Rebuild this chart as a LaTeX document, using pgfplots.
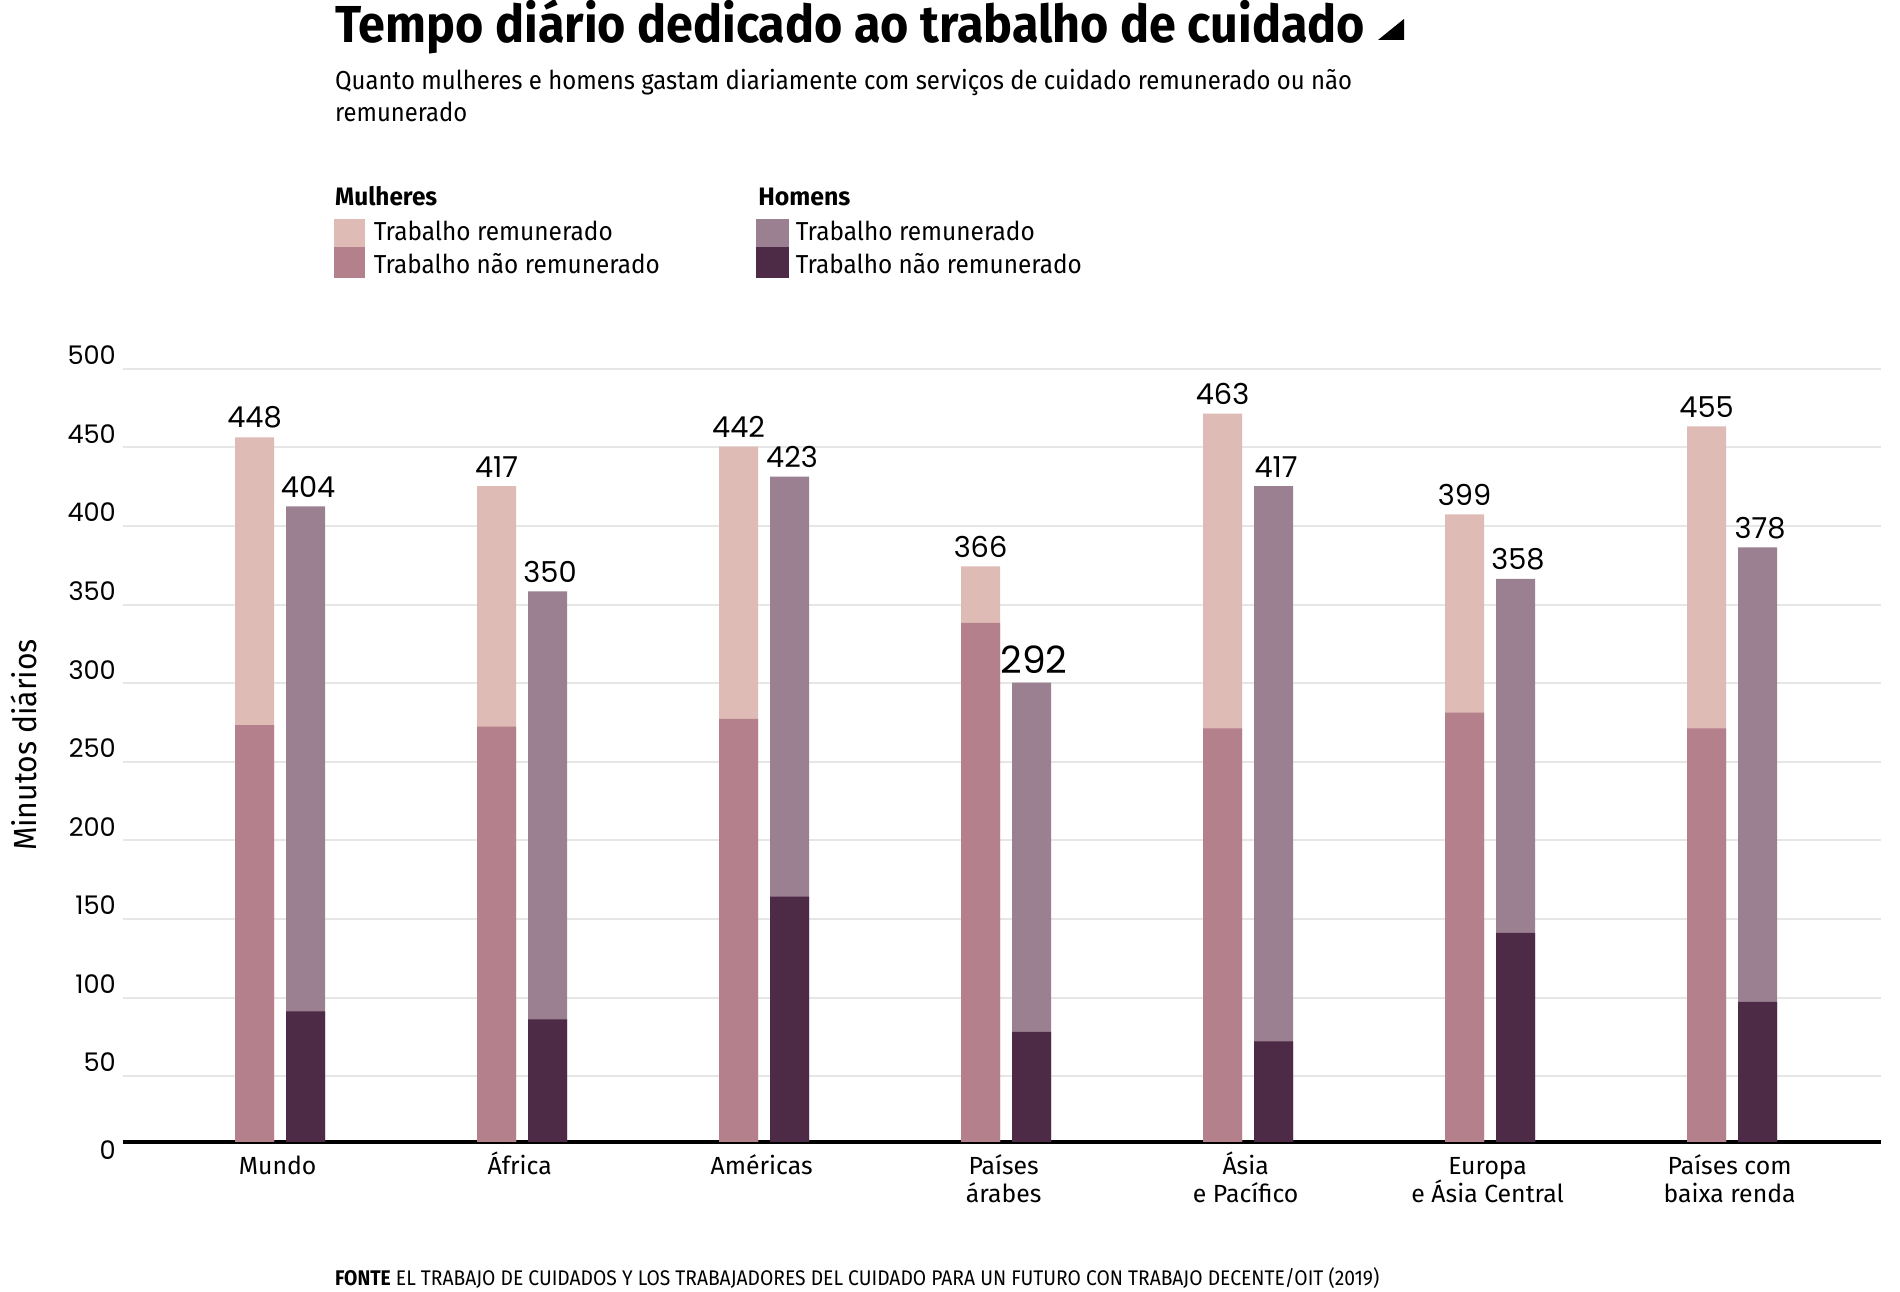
\documentclass[border=0pt]{standalone}
\usepackage{fontspec}
\setmainfont{Fira Sans}
\newfontfamily\numfont{Poppins}
\usepackage{graphicx}
\usepackage{pgfplots}
\usepackage{pgfplotstable}
\pgfplotsset{compat=1.18}
\definecolor{wpaid}{HTML}{DEBBB5}
\definecolor{wunp}{HTML}{B3808B}
\definecolor{mpaid}{HTML}{9A8091}
\definecolor{munp}{HTML}{4D2A46}
\definecolor{gridc}{HTML}{E6E6E6}
\newcommand{\fl}[1]{\smash{#1}\vphantom{Md}}

\pgfplotstableread{
x wtot wunp mtot munp
0 448 265 404 83
1 417 264 350 78
2 442 269 423 156
3 366 330 292 70
4 463 263 417 64
5 399 273 358 133
6 455 263 378 89
}\data

\begin{document}
\begin{tikzpicture}
\path[use as bounding box] (0,0) rectangle (475pt,323pt);
% title
\node[anchor=base west, inner sep=0pt] at (83.6pt,312.4pt) {\resizebox{257.5pt}{\height}{\fontsize{13}{13}\selectfont\bfseries Tempo diário dedicado ao trabalho de cuidado}};
\fill (344.5pt,313pt) -- (351pt,313pt) -- (351pt,318.25pt) -- cycle;
% subtitle
\node[anchor=base west, inner sep=0pt] at (83.6pt,300.6pt) {\resizebox{254.25pt}{\height}{\fontsize{6.5}{6.5}\selectfont Quanto mulheres e homens gastam diariamente com serviços de cuidado remunerado ou não}};
\node[anchor=base west, inner sep=0pt] at (83.6pt,292.7pt) {\resizebox{33pt}{\height}{\fontsize{6.5}{6.5}\selectfont remunerado}};
% legend
\node[anchor=base west, inner sep=0pt] at (83.6pt,271.5pt) {\resizebox{25.5pt}{\height}{\fontsize{6.3}{6.3}\selectfont\bfseries Mulheres}};
\node[anchor=base west, inner sep=0pt] at (189.4pt,271.5pt) {\resizebox{23pt}{\height}{\fontsize{6.3}{6.3}\selectfont\bfseries Homens}};
\fill[wpaid] (83.6pt,261.25pt) rectangle (91.25pt,268.25pt);
\fill[wunp] (83.6pt,253.6pt) rectangle (91.25pt,261.25pt);
\fill[mpaid] (189pt,261.25pt) rectangle (197.25pt,268.25pt);
\fill[munp] (189pt,253.6pt) rectangle (197.25pt,261.25pt);
\node[anchor=base west, inner sep=0pt] at (93.25pt,262.75pt) {\resizebox{59.75pt}{\height}{\fontsize{6.5}{6.5}\selectfont Trabalho remunerado}};
\node[anchor=base west, inner sep=0pt] at (93.25pt,254.5pt) {\resizebox{71.5pt}{\height}{\fontsize{6.5}{6.5}\selectfont Trabalho não remunerado}};
\node[anchor=base west, inner sep=0pt] at (198.75pt,262.75pt) {\resizebox{59.75pt}{\height}{\fontsize{6.5}{6.5}\selectfont Trabalho remunerado}};
\node[anchor=base west, inner sep=0pt] at (198.75pt,254.5pt) {\resizebox{71.5pt}{\height}{\fontsize{6.5}{6.5}\selectfont Trabalho não remunerado}};
% y label
\node[rotate=90, inner sep=0pt] at (6pt,136.75pt) {\resizebox{53pt}{\height}{\fontsize{8}{8}\selectfont Minutos diários}};
% footer
\node[anchor=base west, inner sep=0pt] at (83.6pt,1.6pt) {\resizebox{261pt}{\height}{\fontsize{5.3}{5.3}\selectfont\textbf{FONTE} EL TRABAJO DE CUIDADOS Y LOS TRABAJADORES DEL CUIDADO PARA UN FUTURO CON TRABAJO DECENTE/OIT (2019)}};

\begin{axis}[
  at={(30.75pt,37.5pt)}, anchor=south west,
  x=60.5pt, y=0.39325pt,
  xmin=-0.649, xmax=6.616, ymin=0, ymax=500,
  clip=false,
  axis line style={draw=none},
  tick style={draw=none},
  /pgf/number format/assume math mode=true,
  ytick={41.9,91.8,141.8,191.7,241.7,291.6,341.6,391.5,441.5,491.4},
  yticklabels={50,100,150,200,250,300,350,400,450,500},
  extra y ticks={0}, extra y tick labels={0},
  extra y tick style={ymajorgrids=true, major grid style={black, line width=1pt}, yticklabel style={yshift=-5.5pt}},
  ymajorgrids, major grid style={gridc, line width=0.5pt},
  yticklabel style={font=\numfont\fontsize{6.4}{6.4}\selectfont, anchor=east, inner sep=0pt, xshift=-1.6pt, yshift=3.4pt},
  xtick={0,...,6},
  xticklabels={\fl{Mundo}, \fl{África}, \fl{Américas}, {\fl{Países}\\árabes}, {\fl{Ásia}\\e Pacífico}, {\fl{Europa}\\e Ásia Central}, {\fl{Países com}\\baixa renda}},
  xticklabel style={font=\fontsize{6.2}{7}\selectfont, align=center, anchor=north, inner sep=0pt, yshift=-3.2pt, xshift=-0.6pt},
]
\addplot[ybar, bar width=9.75pt, bar shift=-6.375pt, fill=wpaid, draw=none, point meta=y, nodes near coords,
  nodes near coords style={font=\numfont\fontsize{7.2}{7.2}\selectfont, anchor=south, inner sep=0pt, yshift=2pt, xshift=-6.375pt}]
  table[x=x,y=wtot]{\data};
\addplot[ybar, bar width=9.75pt, bar shift=-6.375pt, fill=wunp, draw=none] table[x=x,y=wunp]{\data};
\addplot[ybar, bar width=9.75pt, bar shift=6.375pt, fill=mpaid, draw=none, point meta=y,
  nodes near coords={\ifnum\coordindex=3 \fontsize{9.4}{9.4}\selectfont\fi\pgfmathprintnumber{\pgfplotspointmeta}},
  nodes near coords style={font=\numfont\fontsize{7.2}{7.2}\selectfont, anchor=south, inner sep=0pt, yshift=2pt, xshift=7pt}]
  table[x=x,y=mtot]{\data};
\addplot[ybar, bar width=9.75pt, bar shift=6.375pt, fill=munp, draw=none] table[x=x,y=munp]{\data};
\end{axis}
\end{tikzpicture}
\end{document}
